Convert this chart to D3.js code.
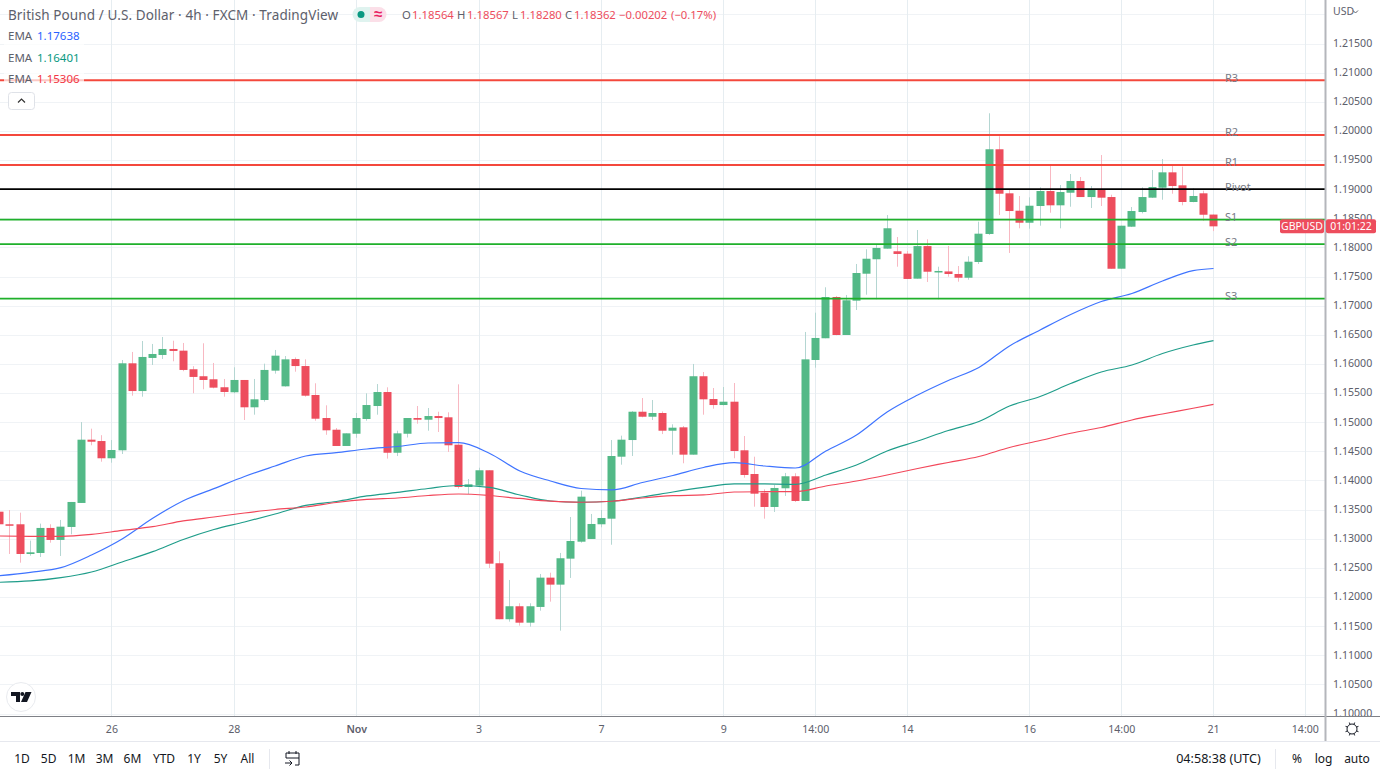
<!DOCTYPE html>
<html>
<head>
<meta charset="utf-8">
<title>GBPUSD</title>
<script src="https://cdn.jsdelivr.net/npm/d3@7"></script>
<style>
	html, body { margin: 0; padding: 0; background: #fff; overflow: hidden; }
	svg { display: block; }
	text { font-family: "Noto Sans", sans-serif; }
	.axis text { fill: #5d606b; font-size: 10.6px; }
	.axis path, .axis line { display: none; }
</style>
</head>
<body>
<svg id="chart"></svg>
<script>
/*
	Chart data. Bars run left to right, one every 4h.
*/
const opens = [
	1.13464, 1.13248, 1.13248, 1.12738, 1.12755, 1.13185, 1.12979, 1.13202, 1.13614, 1.14700,
	1.14677, 1.14381, 1.14518, 1.16011, 1.15535, 1.16103, 1.16154, 1.16257, 1.16228, 1.15909,
	1.15789, 1.15737, 1.15600, 1.15514, 1.15725, 1.15256, 1.15381, 1.15885, 1.15616, 1.16084,
	1.15964, 1.15467, 1.15072, 1.14871, 1.14592, 1.14802, 1.15055, 1.15278, 1.15518, 1.14476,
	1.14802, 1.15072, 1.15043, 1.15106, 1.15084, 1.14614, 1.13888, 1.13911, 1.14175, 1.12579,
	1.11618, 1.11841, 1.11559, 1.11829, 1.12332, 1.12212, 1.12658, 1.12949, 1.12996, 1.13248,
	1.13344, 1.14408, 1.14694, 1.15180, 1.15094, 1.15158, 1.14854, 1.14912, 1.14443, 1.15789,
	1.15398, 1.15295, 1.15352, 1.14518, 1.14111, 1.13790, 1.13545, 1.13866, 1.14072, 1.13648,
	1.16068, 1.16441, 1.17149, 1.16497, 1.17086, 1.17549, 1.17797, 1.17979, 1.17934, 1.17893,
	1.17464, 1.18023, 1.17570, 1.17588, 1.17544, 1.17480, 1.17750, 1.18231, 1.19685, 1.18929,
	1.18630, 1.18424, 1.18711, 1.18968, 1.18723, 1.18939, 1.19140, 1.18865, 1.18991, 1.18865,
	1.17635, 1.18356, 1.18608, 1.18854, 1.19025, 1.19289, 1.19066, 1.18780, 1.18929, 1.18564
]
const closes = [
	1.13248, 1.13231, 1.12738, 1.12767, 1.13185, 1.12979, 1.13207, 1.13631, 1.14700, 1.14665,
	1.14381, 1.14523, 1.16011, 1.15535, 1.16120, 1.16171, 1.16257, 1.16223, 1.15897, 1.15777,
	1.15725, 1.15593, 1.15519, 1.15725, 1.15256, 1.15393, 1.15897, 1.16142, 1.16079, 1.15964,
	1.15455, 1.15060, 1.14861, 1.14592, 1.14809, 1.15072, 1.15295, 1.15518, 1.14476, 1.14809,
	1.15072, 1.15043, 1.15106, 1.15072, 1.14604, 1.13888, 1.13934, 1.14175, 1.12572, 1.11618,
	1.11841, 1.11559, 1.11841, 1.12332, 1.12212, 1.12665, 1.12961, 1.13722, 1.13253, 1.13356,
	1.14420, 1.14700, 1.15180, 1.15094, 1.15158, 1.14854, 1.14906, 1.14443, 1.15789, 1.15393,
	1.15295, 1.15352, 1.14506, 1.14094, 1.13773, 1.13545, 1.13871, 1.14072, 1.13648, 1.16079,
	1.16446, 1.17149, 1.16497, 1.17093, 1.17561, 1.17806, 1.17991, 1.18329, 1.17888, 1.17459,
	1.18023, 1.17583, 1.17596, 1.17544, 1.17480, 1.17755, 1.18236, 1.19685, 1.18922, 1.18625,
	1.18424, 1.18716, 1.18968, 1.18723, 1.18951, 1.19140, 1.18865, 1.18991, 1.18854, 1.17634,
	1.18373, 1.18625, 1.18865, 1.19037, 1.19289, 1.19054, 1.18780, 1.18883, 1.18561, 1.18362
]
const highs = [
	1.13510, 1.13493, 1.13447, 1.12967, 1.13259, 1.13248, 1.13322, 1.13631, 1.15003, 1.14889,
	1.14777, 1.14694, 1.16068, 1.16206, 1.16394, 1.16343, 1.16463, 1.16399, 1.16360, 1.15961,
	1.16355, 1.16017, 1.15742, 1.15943, 1.15725, 1.15742, 1.16005, 1.16240, 1.16136, 1.16112,
	1.16079, 1.15668, 1.15290, 1.14900, 1.14809, 1.15158, 1.15496, 1.15655, 1.15599, 1.14854,
	1.15072, 1.15278, 1.15244, 1.15180, 1.15170, 1.15650, 1.14025, 1.14219, 1.14175, 1.12785,
	1.12292, 1.11892, 1.11892, 1.12395, 1.12417, 1.12756, 1.13373, 1.13825, 1.13425, 1.13493,
	1.14694, 1.14769, 1.15190, 1.15415, 1.15381, 1.15185, 1.14964, 1.14935, 1.16000, 1.15862,
	1.15587, 1.15604, 1.15673, 1.14763, 1.14408, 1.13848, 1.13922, 1.14129, 1.14124, 1.16549,
	1.16880, 1.17316, 1.17167, 1.17184, 1.17716, 1.17968, 1.18054, 1.18556, 1.18179, 1.17939,
	1.18299, 1.18139, 1.17669, 1.18025, 1.17681, 1.17848, 1.18442, 1.20303, 1.19908, 1.18986,
	1.18883, 1.18860, 1.19032, 1.19432, 1.19071, 1.19260, 1.19209, 1.19054, 1.19586, 1.18905,
	1.18373, 1.18694, 1.19032, 1.19329, 1.19518, 1.19415, 1.19386, 1.19015, 1.18974, 1.18567
]
const lows = [
	1.13202, 1.12738, 1.12589, 1.12709, 1.12687, 1.12932, 1.12704, 1.13076, 1.13614, 1.14604,
	1.14322, 1.14305, 1.14454, 1.15455, 1.15438, 1.15982, 1.16086, 1.16046, 1.15875, 1.15497,
	1.15565, 1.15581, 1.15438, 1.15497, 1.15038, 1.15129, 1.15352, 1.15834, 1.15611, 1.15867,
	1.15438, 1.15026, 1.14784, 1.14592, 1.14592, 1.14733, 1.15026, 1.15129, 1.14375, 1.14419,
	1.14738, 1.14974, 1.14854, 1.14832, 1.14489, 1.13859, 1.13768, 1.13888, 1.12498, 1.11618,
	1.11577, 1.11508, 1.11491, 1.11765, 1.11920, 1.11422, 1.12327, 1.12932, 1.12996, 1.13196,
	1.12897, 1.14271, 1.14420, 1.15084, 1.15038, 1.14796, 1.14443, 1.14295, 1.14443, 1.15129,
	1.15232, 1.15287, 1.14381, 1.14048, 1.13550, 1.13344, 1.13459, 1.13734, 1.13631, 1.13648,
	1.15936, 1.16441, 1.16492, 1.16497, 1.16926, 1.17189, 1.17110, 1.17979, 1.17669, 1.17459,
	1.17464, 1.17407, 1.17110, 1.17498, 1.17412, 1.17446, 1.17716, 1.18214, 1.18556, 1.17905,
	1.18328, 1.18322, 1.18373, 1.18596, 1.18328, 1.18699, 1.18865, 1.18677, 1.18711, 1.17634,
	1.17635, 1.18350, 1.18585, 1.18850, 1.18819, 1.18922, 1.18723, 1.18775, 1.18459, 1.18280
]

//EMA values sampled every third bar, plus the last bar
const emaBars = [...d3.range(0, 118, 3), 119]
const emaFast = [
	1.12366, 1.12424, 1.12503, 1.12721, 1.12996, 1.13351, 1.13653, 1.13859, 1.14068, 1.14248,
	1.14420, 1.14477, 1.14540, 1.14583, 1.14643, 1.14648, 1.14468, 1.14163, 1.13991, 1.13862,
	1.13837, 1.13965, 1.14085, 1.14223, 1.14305, 1.14248, 1.14214, 1.14506, 1.14780, 1.15175,
	1.15467, 1.15716, 1.15939, 1.16309, 1.16583, 1.16849, 1.17072, 1.17210, 1.17424, 1.17601, 1.17638
]
const emaMid = [
	1.12253, 1.12275, 1.12332, 1.12429, 1.12601, 1.12778, 1.12987, 1.13159, 1.13287, 1.13425,
	1.13571, 1.13639, 1.13734, 1.13794, 1.13862, 1.13914, 1.13880, 1.13751, 1.13648, 1.13626,
	1.13643, 1.13716, 1.13802, 1.13880, 1.13943, 1.13940, 1.13934, 1.14094, 1.14265, 1.14506,
	1.14677, 1.14858, 1.15012, 1.15278, 1.15441, 1.15664, 1.15862, 1.15982, 1.16179, 1.16325, 1.16401
]
const emaSlow = [
	1.13047, 1.13042, 1.13039, 1.13073, 1.13142, 1.13207, 1.13305, 1.13373, 1.13442, 1.13502,
	1.13545, 1.13622, 1.13674, 1.13699, 1.13742, 1.13768, 1.13742, 1.13691, 1.13644, 1.13626,
	1.13643, 1.13699, 1.13739, 1.13751, 1.13802, 1.13807, 1.13809, 1.13905, 1.13991, 1.14094,
	1.14206, 1.14309, 1.14412, 1.14566, 1.14686, 1.14810, 1.14909, 1.15038, 1.15141, 1.15239, 1.15306
]

const levelNames = ['R3', 'R2', 'R1', 'Pivot', 'S1', 'S2', 'S3']
const levelValues = [1.2087, 1.1993, 1.19415, 1.1900, 1.18476, 1.18057, 1.17123]

const priceTicks = d3.range(0, 24).map(i => +(1.10 + i * 0.005).toFixed(3))
const gridPrices = [...priceTicks, 1.22]
const timeBars = [11, 23, 35, 47, 59, 71, 80, 89, 101, 110, 119, 128]
const timeLabels = ['26', '28', 'Nov', '3', '7', '9', '14:00', '14', '16', '14:00', '21', '14:00']
const rangeButtons = ['1D', '5D', '1M', '3M', '6M', 'YTD', '1Y', '5Y', 'All']

/*
	Drawing constants
*/
const [width, height] = [1380, 776]
const [paneRight, paneBottom] = [1325, 716]
const toolbarTop = 741
const bodyWidth = 8
const GREEN = '#53b987'
const RED = '#ed4d5d'
const GRID_H = '#f0f3f6'
const GRID_V = '#e6edf1'
const TEXT = '#5d606b'

const svg = d3.select('#chart').attr('width', width).attr('height', height)

/*
	Scales. One bar is 10.2px wide, the price axis is 29.13px per half cent
*/
const x = d3.scaleLinear().domain([0, 119]).range([-0.3, 1213.5])
const y = d3.scaleLinear().domain([1.10, 1.22]).range([713.5, 14.4])

svg.append('defs').append('clipPath').attr('id', 'pane')
	.append('rect').attr('width', paneRight).attr('height', paneBottom)
const pane = svg.append('g').attr('clip-path', 'url(#pane)')

//Gridlines
pane.append('g').selectAll('line').data(gridPrices).enter().append('line')
	.attr('x1', 0).attr('x2', paneRight)
	.attr('y1', d => Math.round(y(d)) + 0.5).attr('y2', d => Math.round(y(d)) + 0.5)
	.attr('stroke', GRID_H)
pane.append('g').selectAll('line').data(timeBars).enter().append('line')
	.attr('x1', d => Math.floor(x(d)) + 0.5).attr('x2', d => Math.floor(x(d)) + 0.5)
	.attr('y1', 0).attr('y2', paneBottom)
	.attr('stroke', GRID_V)

//Candles
const bars = d3.range(opens.length)
const up = i => closes[i] >= opens[i]
pane.append('g').selectAll('line').data(bars).enter().append('line')
	.attr('x1', i => Math.floor(x(i)) + 0.5).attr('x2', i => Math.floor(x(i)) + 0.5)
	.attr('y1', i => y(highs[i])).attr('y2', i => y(lows[i]))
	.attr('stroke', i => up(i) ? '#b4d6d2' : '#f8b8c2')
pane.append('g').selectAll('rect').data(bars).enter().append('rect')
	.attr('x', i => Math.floor(x(i)) + 0.5 - bodyWidth / 2)
	.attr('width', bodyWidth)
	.attr('y', i => y(Math.max(opens[i], closes[i])))
	.attr('height', i => Math.max(1.5, Math.abs(y(opens[i]) - y(closes[i]))))
	.attr('fill', i => up(i) ? GREEN : RED)

//EMAs
const emaLine = d3.line().x((d, i) => x(emaBars[i])).y(d => y(d)).curve(d3.curveMonotoneX)
const emas = [[emaFast, '#3f74ff'], [emaMid, '#1f9d8a'], [emaSlow, '#f2475a']]
pane.append('g').selectAll('path').data(emas).enter().append('path')
	.attr('d', d => emaLine(d[0]))
	.attr('fill', 'none')
	.attr('stroke', d => d[1])
	.attr('stroke-width', 1.2)

//Pivot levels
const levelColor = name => name === 'Pivot' ? '#000000' : name[0] === 'R' ? '#f4483c' : '#1fb02b'
pane.append('g').selectAll('line').data(levelNames).enter().append('line')
	.attr('x1', 0).attr('x2', paneRight)
	.attr('y1', (d, i) => y(levelValues[i])).attr('y2', (d, i) => y(levelValues[i]))
	.attr('stroke', levelColor)
	.attr('stroke-width', 1.8)
pane.append('g').selectAll('text').data(levelNames).enter().append('text')
	.attr('x', 1225)
	.attr('y', (d, i) => y(levelValues[i]) + 1.5)
	.attr('fill', '#787b86')
	.attr('font-size', 11)
	.text(d => d)

/*
	Axes
*/
const yAxis = d3.axisRight(y).tickValues(priceTicks).tickFormat(d3.format('.5f')).tickSize(0).tickPadding(8).offset(0)
svg.append('g').attr('class', 'axis').attr('transform', `translate(${paneRight},0)`).call(yAxis)
const xAxis = d3.axisBottom(x).tickValues(timeBars).tickFormat((d, i) => timeLabels[i]).tickSize(0).tickPadding(9).offset(0)
svg.append('g').attr('class', 'axis').attr('transform', `translate(0,${paneBottom})`).call(xAxis)
svg.selectAll('.axis .tick text').filter(d => d === 35).attr('font-weight', 600)

svg.append('line').attr('x1', 0).attr('x2', 1380).attr('y1', paneBottom + 0.5).attr('y2', paneBottom + 0.5).attr('stroke', '#7f8187')
svg.append('line').attr('x1', paneRight + 0.5).attr('x2', paneRight + 0.5).attr('y1', 0).attr('y2', toolbarTop).attr('stroke', '#b4b6bb').attr('stroke-width', 2)
svg.append('line').attr('x1', 0).attr('x2', 1380).attr('y1', toolbarTop + 0.5).attr('y2', toolbarTop + 0.5).attr('stroke', '#e6e8ee')

svg.append('text').attr('x', 1333).attr('y', 15).attr('fill', TEXT).attr('font-size', 10.5).text('USD')
svg.append('path').attr('d', 'M1353 10.5l2.5 2.5l2.5-2.5').attr('fill', 'none').attr('stroke', TEXT)

//Last price tag
const lastY = y(closes[closes.length - 1])
const tag = svg.append('g').attr('transform', `translate(0,${lastY})`)
tag.append('rect').attr('x', 1280).attr('y', -7).attr('width', 44).attr('height', 14).attr('rx', 2).attr('fill', RED)
tag.append('rect').attr('x', 1326).attr('y', -7).attr('width', 50).attr('height', 14).attr('rx', 2).attr('fill', RED)
tag.append('text').attr('x', 1302).attr('y', 4).attr('text-anchor', 'middle').attr('fill', '#fff').attr('font-size', 10.5).text('GBPUSD')
tag.append('text').attr('x', 1351).attr('y', 4).attr('text-anchor', 'middle').attr('fill', '#fff').attr('font-size', 10.5).text('01:01:22')

/*
	Legend, top left. The backing rect lets the grid and lines show through faintly
*/
const legend = svg.append('g')
legend.append('rect').attr('x', 4).attr('y', 27).attr('width', 80).attr('height', 62).attr('fill', '#fff').attr('opacity', 0.7)
legend.append('text').attr('x', 8).attr('y', 20).attr('fill', TEXT).attr('font-size', 13.5).attr('letter-spacing', 0.1).text('British Pound / U.S. Dollar · 4h · FXCM · TradingView')

const emaTexts = ['1.17638', '1.16401', '1.15306']
const emaColors = ['#2962ff', '#089981', '#f23645']
emaTexts.forEach((t, i) => {
	legend.append('text').attr('x', 8).attr('y', 40 + i * 21.7).attr('fill', TEXT).attr('font-size', 11.5).text('EMA')
	legend.append('text').attr('x', 37).attr('y', 40 + i * 21.7).attr('fill', emaColors[i]).attr('font-size', 11.5).text(t)
})

const pill = legend.append('g')
pill.append('path').attr('d', 'M360 7h10v15h-10a7.5 7.5 0 0 1 0-15z').attr('fill', '#dff3ef')
pill.append('path').attr('d', 'M370 7h9a7.5 7.5 0 0 1 0 15h-9z').attr('fill', '#fbdfe8')
pill.append('circle').attr('cx', 361).attr('cy', 14.5).attr('r', 3.5).attr('fill', '#089981')
pill.append('text').attr('x', 378).attr('y', 19).attr('text-anchor', 'middle').attr('fill', '#e91e63').attr('font-size', 15).attr('font-weight', 700).text('≈')

const ohlcLetters = ['O', 'H', 'L', 'C']
const ohlcValues = ['1.18564', '1.18567', '1.18280', '1.18362']
const ohlcX = [402, 457, 512, 565]
const ohlcValueX = [412, 467, 520, 574]
ohlcLetters.forEach((t, i) => {
	legend.append('text').attr('x', ohlcX[i]).attr('y', 19).attr('fill', TEXT).attr('font-size', 11.3).text(t)
	legend.append('text').attr('x', ohlcValueX[i]).attr('y', 19).attr('fill', RED).attr('font-size', 11.3).text(ohlcValues[i])
})
legend.append('text').attr('x', 619).attr('y', 19).attr('fill', RED).attr('font-size', 11.3).text('−0.00202')
legend.append('text').attr('x', 671).attr('y', 19).attr('fill', RED).attr('font-size', 11.3).text('(−0.17%)')

//Collapse button
legend.append('rect').attr('x', 8.5).attr('y', 92.5).attr('width', 26).attr('height', 17).attr('rx', 3).attr('fill', '#fff').attr('stroke', '#dfe2e8')
legend.append('path').attr('d', 'M18 102.5l3.5-3.5l3.5 3.5').attr('fill', 'none').attr('stroke', '#333').attr('stroke-width', 1.2)

//TradingView logo
const logo = svg.append('g').attr('transform', 'translate(21,697)')
logo.append('circle').attr('r', 14.5).attr('fill', '#fff').attr('stroke', '#e9ebef')
logo.append('path').attr('d', 'M-10-5h9v10h-4v-6h-5zM4.5-5h6l-4.5 10h-6z').attr('fill', '#131722')
logo.append('circle').attr('cx', 1.3).attr('cy', -3).attr('r', 2).attr('fill', '#131722')

/*
	Bottom toolbar
*/
const buttonX = [22, 48.6, 76.5, 104.6, 132.4, 164, 194, 220.5, 247.5]
const toolbar = svg.append('g').attr('fill', '#131722').attr('font-size', 12).attr('text-anchor', 'middle')
toolbar.selectAll('text.range').data(rangeButtons).enter().append('text')
	.attr('class', 'range')
	.attr('x', (d, i) => buttonX[i]).attr('y', 763)
	.text(d => d)
toolbar.append('text').attr('x', 1218.5).attr('y', 763).attr('font-size', 12.6).text('04:58:38 (UTC)')
toolbar.append('text').attr('x', 1297).attr('y', 763).text('%')
toolbar.append('text').attr('x', 1323.5).attr('y', 763).text('log')
toolbar.append('text').attr('x', 1357).attr('y', 763).text('auto')
svg.append('line').attr('x1', 269.5).attr('x2', 269.5).attr('y1', 749).attr('y2', 769).attr('stroke', '#e6e8ee')
svg.append('line').attr('x1', 1275.5).attr('x2', 1275.5).attr('y1', 749).attr('y2', 769).attr('stroke', '#e6e8ee')
svg.append('path')
	.attr('d', 'M289 751v3M296 751v3M286 758v-5h13v12h-4M286 758h13M285 763h7m-2.5-2.5l2.5 2.5l-2.5 2.5')
	.attr('fill', 'none').attr('stroke', '#131722')

//Settings gear
const gear = svg.append('g').attr('transform', 'translate(1352,729)').attr('stroke', '#131722').attr('fill', 'none')
gear.append('circle').attr('r', 5)
gear.selectAll('line').data(d3.range(8)).enter().append('line')
	.attr('x1', d => 5 * Math.cos(d * Math.PI / 4 + Math.PI / 8)).attr('y1', d => 5 * Math.sin(d * Math.PI / 4 + Math.PI / 8))
	.attr('x2', d => 7 * Math.cos(d * Math.PI / 4 + Math.PI / 8)).attr('y2', d => 7 * Math.sin(d * Math.PI / 4 + Math.PI / 8))
</script>
</body>
</html>
